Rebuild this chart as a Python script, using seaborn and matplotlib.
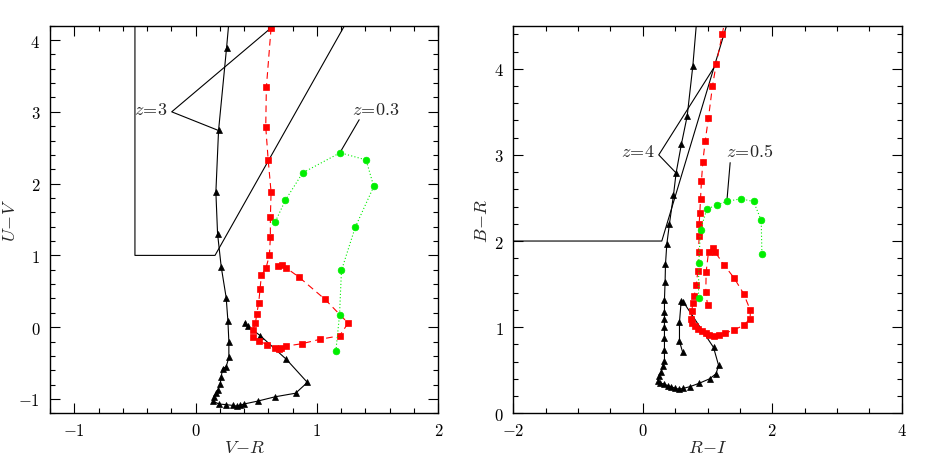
import numpy as np
import pandas as pd
import matplotlib
matplotlib.use("Agg")
import matplotlib.pyplot as plt
from matplotlib.ticker import MultipleLocator, FuncFormatter
import seaborn as sns

# ---------------- data: left panel (V-R vs U-V) ----------------
l_black_x = [0.29, 0.255, 0.189, 0.167, 0.181, 0.211, 0.252, 0.266, 0.274, 0.274, 0.252, 0.222,
             0.211, 0.203, 0.186, 0.170, 0.151, 0.142, 0.192, 0.252, 0.307, 0.34, 0.362, 0.40,
             0.512, 0.655, 0.824, 0.921, 0.749, 0.534, 0.43, 0.403]
l_black_y = [4.55, 3.89, 2.74, 1.88, 1.30, 0.84, 0.41, 0.09, -0.20, -0.42, -0.55, -0.58,
             -0.69, -0.79, -0.87, -0.92, -0.97, -1.03, -1.07, -1.08, -1.09, -1.10, -1.09, -1.07,
             -1.03, -0.97, -0.92, -0.77, -0.45, -0.12, 0.015, 0.065]

l_red_x = [0.622, 0.583, 0.578, 0.598, 0.622, 0.616, 0.616, 0.608, 0.580, 0.542, 0.531, 0.520,
           0.504, 0.493, 0.471, 0.477, 0.525, 0.592, 0.655, 0.685, 0.704, 0.743, 0.877, 1.023,
           1.186, 1.257, 1.065, 0.850, 0.743, 0.711, 0.683]
l_red_y = [4.17, 3.34, 2.79, 2.33, 1.88, 1.53, 1.25, 1.00, 0.825, 0.72, 0.53, 0.34,
           0.185, 0.056, -0.045, -0.135, -0.195, -0.245, -0.29, -0.30, -0.29, -0.265, -0.23, -0.17,
           -0.12, 0.056, 0.39, 0.70, 0.83, 0.865, 0.85]

l_green_x = [0.657, 0.740, 0.882, 1.191, 1.405, 1.468, 1.315, 1.202, 1.186, 1.156]
l_green_y = [1.47, 1.77, 2.15, 2.43, 2.33, 1.96, 1.39, 0.79, 0.17, -0.33]

l_box_x = [-0.5, -0.5, 0.16, 1.327]
l_box_y = [4.6, 1.0, 1.0, 4.5]

l_z3_x = [0.622, -0.197, 0.189]
l_z3_y = [4.17, 3.0, 2.74]
l_z03_x = [1.348, 1.189]
l_z03_y = [2.89, 2.43]

# ---------------- data: right panel (R-I vs B-R) ----------------
r_black_x = [0.86, 0.773, 0.686, 0.598, 0.515, 0.474, 0.412, 0.371, 0.351, 0.345, 0.335, 0.335,
             0.335, 0.335, 0.335, 0.335, 0.335, 0.31, 0.284, 0.253, 0.237, 0.268, 0.33, 0.387,
             0.438, 0.50, 0.567, 0.629, 0.732, 0.876, 1.031, 1.134, 1.17, 1.093, 0.629, 0.593,
             0.567, 0.567, 0.614]
r_black_y = [4.8, 4.03, 3.45, 3.13, 2.79, 2.53, 2.20, 1.96, 1.73, 1.53, 1.32, 1.18,
             1.09, 1.00, 0.87, 0.73, 0.61, 0.545, 0.48, 0.43, 0.38, 0.35, 0.34, 0.32,
             0.31, 0.29, 0.28, 0.29, 0.31, 0.35, 0.40, 0.46, 0.56, 0.765, 1.29, 1.30,
             1.06, 0.835, 0.715]

r_red_x = [1.28, 1.227, 1.134, 1.077, 1.015, 0.964, 0.928, 0.907, 0.892, 0.881, 0.871, 0.871,
           0.861, 0.851, 0.825, 0.794, 0.773, 0.758, 0.747, 0.765, 0.805, 0.855, 0.915, 0.97,
           1.025, 1.093, 1.17, 1.273, 1.412, 1.557, 1.66, 1.66, 1.557, 1.412, 1.258, 1.119,
           1.078, 1.016, 0.979, 0.974, 1.0]
r_red_y = [4.6, 4.40, 4.05, 3.80, 3.43, 3.16, 2.92, 2.70, 2.49, 2.32, 2.20, 2.06,
           1.87, 1.65, 1.49, 1.36, 1.28, 1.19, 1.10, 1.05, 1.01, 0.98, 0.95, 0.93,
           0.91, 0.895, 0.905, 0.93, 0.97, 1.02, 1.10, 1.20, 1.39, 1.57, 1.72, 1.87,
           1.92, 1.875, 1.64, 1.41, 1.26]

r_green_x = [1.84, 1.83, 1.711, 1.51, 1.299, 1.144, 0.99, 0.892, 0.865, 0.861]
r_green_y = [1.855, 2.24, 2.46, 2.49, 2.46, 2.42, 2.37, 2.13, 1.74, 1.34]

r_box_x = [-2.5, 0.294, 1.374]
r_box_y = [2.0, 2.0, 4.7]

r_z4_x = [1.13, 0.247, 0.515]
r_z4_y = [4.05, 3.0, 2.79]
r_z05_x = [1.35, 1.299]
r_z05_y = [2.91, 2.46]

labels_left = [r"$z\!=\!3$", r"$z\!=\!0.3$"]
labels_right = [r"$z\!=\!4$", r"$z\!=\!0.5$"]

# ---------------- style ----------------
sns.set_style("ticks")
plt.rcParams["mathtext.fontset"] = "cm"
plt.rcParams["font.family"] = ["DejaVu Serif"]

fig = plt.figure(figsize=(9.26, 4.64), dpi=100)
axL = fig.add_axes([50 / 926, (464 - 414.3) / 464, 388.3 / 926, 387.6 / 464])
axR = fig.add_axes([513.3 / 926, (464 - 414.3) / 464, 388.4 / 926, 387.6 / 464])

RED = "#ff0000"
GREEN = "#00ee00"


def track(ax, xs, ys, color, marker, ms, ls):
    df = pd.DataFrame({"x": xs, "y": ys})
    sns.lineplot(data=df, x="x", y="y", sort=False, estimator=None, ax=ax,
                 color=color, marker=marker, markersize=ms, linewidth=0.8,
                 linestyle=ls, markeredgecolor=color, markeredgewidth=0.5)


def guide(ax, xs, ys):
    df = pd.DataFrame({"x": xs, "y": ys})
    sns.lineplot(data=df, x="x", y="y", sort=False, estimator=None, ax=ax,
                 color="black", linewidth=0.8)


def fmt(v, pos):
    if abs(v - round(v)) < 1e-6:
        return "$%d$" % int(round(v))
    return "$%g$" % v


# left panel
guide(axL, l_box_x, l_box_y)
guide(axL, l_z3_x, l_z3_y)
guide(axL, l_z03_x, l_z03_y)
track(axL, l_black_x, l_black_y, "black", "^", 4.2, "-")
track(axL, l_red_x, l_red_y, RED, "s", 3.8, (0, (6, 4)))
track(axL, l_green_x, l_green_y, GREEN, "o", 4.8, (0, (1, 2)))
axL.text(-0.51, 3.04, labels_left[0], fontsize=13, ha="left", va="center")
axL.text(1.285, 3.04, labels_left[1], fontsize=13, ha="left", va="center")
axL.set_xlim(-1.2, 2.0)
axL.set_ylim(-1.2, 4.2)
axL.xaxis.set_major_locator(MultipleLocator(1))
axL.xaxis.set_minor_locator(MultipleLocator(0.2))
axL.yaxis.set_major_locator(MultipleLocator(1))
axL.yaxis.set_minor_locator(MultipleLocator(0.2))
axL.set_xlabel(r"$V\!-\!R$", fontsize=13)
axL.set_ylabel(r"$U\!-\!V$", fontsize=13)

# right panel
guide(axR, r_box_x, r_box_y)
guide(axR, r_z4_x, r_z4_y)
guide(axR, r_z05_x, r_z05_y)
track(axR, r_black_x, r_black_y, "black", "^", 4.2, "-")
track(axR, r_red_x, r_red_y, RED, "s", 3.8, (0, (6, 4)))
track(axR, r_green_x, r_green_y, GREEN, "o", 4.8, (0, (1, 2)))
axR.text(-0.33, 3.04, labels_right[0], fontsize=13, ha="left", va="center")
axR.text(1.29, 3.04, labels_right[1], fontsize=13, ha="left", va="center")
axR.set_xlim(-2, 4)
axR.set_ylim(0, 4.5)
axR.xaxis.set_major_locator(MultipleLocator(2))
axR.xaxis.set_minor_locator(MultipleLocator(0.5))
axR.yaxis.set_major_locator(MultipleLocator(1))
axR.yaxis.set_minor_locator(MultipleLocator(0.2))
axR.set_xlabel(r"$R\!-\!I$", fontsize=13)
axR.set_ylabel(r"$B\!-\!R$", fontsize=13)

for ax in (axL, axR):
    for s in ax.spines.values():
        s.set_visible(True)
        s.set_linewidth(1.0)
        s.set_color("black")
    ax.tick_params(which="both", direction="in", top=True, right=True,
                   bottom=True, left=True, colors="black", width=0.8)
    ax.tick_params(which="major", length=7, labelsize=12)
    ax.tick_params(axis="x", which="major", pad=6)
    ax.tick_params(axis="y", which="major", pad=7)
    ax.tick_params(which="minor", length=3.5)
    ax.xaxis.set_major_formatter(FuncFormatter(fmt))
    ax.yaxis.set_major_formatter(FuncFormatter(fmt))
    ax.set_facecolor("white")

axL.xaxis.set_label_coords(0.5, -0.065)
axR.xaxis.set_label_coords(0.5, -0.065)
axL.yaxis.set_label_coords(-0.08, 0.5)
axR.yaxis.set_label_coords(-0.058, 0.5)

fig.savefig("out.png", dpi=100, facecolor="white")
